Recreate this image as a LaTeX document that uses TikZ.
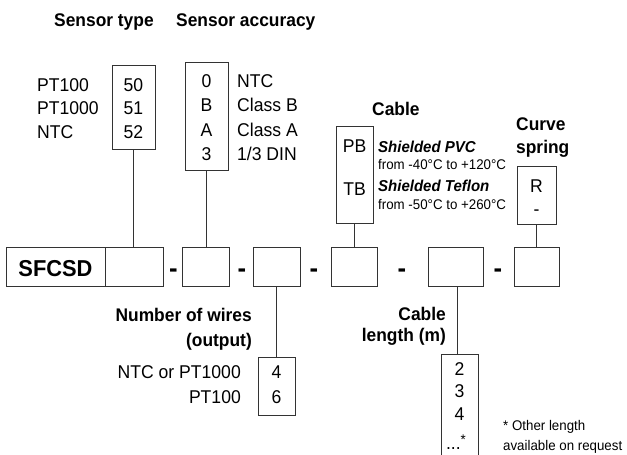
\documentclass[tikz,border=0pt]{standalone}
\usepackage{fontspec}
\setmainfont{Liberation Sans}[FakeStretch=0.95]
\begin{document}
\begin{tikzpicture}[x=1pt,y=-1pt,
  box/.style={draw=black!80, line width=0.9pt, inner sep=0pt, outer sep=0pt, rectangle},
  conn/.style={draw=black!80, line width=0.9pt},
  lab/.style={font=\fontsize{18.5}{21}\selectfont, inner sep=0pt},
  head/.style={font=\bfseries\fontsize{18.3}{21}\selectfont, inner sep=0pt},
  small/.style={font=\fontsize{14}{16}\selectfont, inner sep=0pt},
  bital/.style={font=\bfseries\itshape\fontsize{15.8}{18}\selectfont, inner sep=0pt},
  sep/.style={font=\bfseries\fontsize{27}{27}\selectfont, inner sep=0pt, anchor=base}]
\useasboundingbox (0,0) rectangle (627,455);

% headings
\node[head, anchor=base west] (hType) at (54,26) {Sensor type};
\node[head, anchor=base west] (hAcc) at (176,26) {Sensor accuracy};
\node[head, anchor=base west] (hCable) at (372,115) {Cable};
\node[head, anchor=base west] (hCurve) at (516,130) {Curve};
\node[head, anchor=base west] (hSpring) at (516,153) {spring};
\node[head, anchor=base east] (hWires) at (252,321) {Number of wires};
\node[head, anchor=base east] (hOut) at (252,346) {(output)};
\node[head, anchor=base east] (hLen1) at (446,320) {Cable};
\node[head, anchor=base east] (hLen2) at (446,341) {length (m)};

% sensor type box
\node[box, minimum width=43, minimum height=84] (tbox) at (133.5,107) {};
\node[lab, anchor=base] (t50) at (133.5,91) {50};
\node[lab, anchor=base] (t51) at (133.5,114.5) {51};
\node[lab, anchor=base] (t52) at (133.5,138) {52};
\node[lab, anchor=base west] (l50) at (37,91) {PT100};
\node[lab, anchor=base west] (l51) at (37,114.5) {PT1000};
\node[lab, anchor=base west] (l52) at (37,138) {NTC};

% accuracy box
\node[box, minimum width=43, minimum height=108] (abox) at (206.5,116) {};
\node[lab, anchor=base] (a0) at (206.5,87) {0};
\node[lab, anchor=base] (aB) at (206.5,111) {B};
\node[lab, anchor=base] (aA) at (206.5,136) {A};
\node[lab, anchor=base] (a3) at (206.5,160.5) {3};
\node[lab, anchor=base west] (la0) at (237,87) {NTC};
\node[lab, anchor=base west] (laB) at (237,111) {Class B};
\node[lab, anchor=base west] (laA) at (237,136) {Class A};
\node[lab, anchor=base west] (la3) at (237,160.5) {1/3 DIN};

% cable box
\node[box, minimum width=37, minimum height=97] (cbox) at (354.5,174.5) {};
\node[lab, anchor=base] (cPB) at (354.5,152) {PB};
\node[lab, anchor=base] (cTB) at (354.5,195) {TB};
\node[bital, anchor=base west] (cPVC) at (378,152) {Shielded PVC};
\node[small, anchor=base west] (cPVCt) at (378,169.5) {from -40°C to +120°C};
\node[bital, anchor=base west] (cTef) at (378,191) {Shielded Teflon};
\node[small, anchor=base west] (cTeft) at (378,209) {from -50°C to +260°C};

% curve spring box
\node[box, minimum width=39, minimum height=58] (sbox) at (536.5,195) {};
\node[lab, anchor=base] (sR) at (536.5,192) {R};
\node[lab, anchor=base] (sD) at (536.5,215) {-};

% main row
\node[box, minimum width=99, minimum height=39] (m0) at (55.5,266.5) {};
\node[font=\bfseries\fontsize{23}{24}\selectfont, inner sep=0pt, anchor=base] (mTxt) at (55.5,276) {SFCSD};
\node[box, minimum width=58, minimum height=39] (m1) at (134,266.5) {};
\node[box, minimum width=47, minimum height=39] (m2) at (205.5,266.5) {};
\node[box, minimum width=47, minimum height=39] (m3) at (276.5,266.5) {};
\node[box, minimum width=46, minimum height=39] (m4) at (354,266.5) {};
\node[box, minimum width=55, minimum height=39] (m5) at (455.5,266.5) {};
\node[box, minimum width=45, minimum height=39] (m6) at (536.5,266.5) {};
\node[sep] (d1) at (173.5,277) {-};
\node[sep] (d2) at (242,277) {-};
\node[sep] (d3) at (314,277) {-};
\node[sep] (d4) at (402,277) {-};
\node[sep] (d5) at (498,277) {-};

% wires box
\node[box, minimum width=37, minimum height=58] (wbox) at (276.5,386) {};
\node[lab, anchor=base] (w4) at (276.5,378) {4};
\node[lab, anchor=base] (w6) at (276.5,403) {6};
\node[lab, anchor=base east] (lw4) at (241,378) {NTC or PT1000};
\node[lab, anchor=base east] (lw6) at (241,403) {PT100};

% length box (open at the bottom)
\node[inner sep=0pt, outer sep=0pt, minimum width=37, minimum height=101] (lbox) at (459.5,404.5) {};
\draw[conn] (lbox.south west) -- (lbox.north west) -- (lbox.north east) -- (lbox.south east);
\node[lab, anchor=base] (l2) at (459.5,375) {2};
\node[lab, anchor=base] (l3) at (459.5,397.5) {3};
\node[lab, anchor=base] (l4) at (459.5,420) {4};
\node[lab, anchor=base] (ldots) at (456,449) {...\raisebox{0.5ex}{\fontsize{14}{14}\selectfont *}};
\node[small, anchor=base west] (note1) at (503,430) {* Other length};
\node[small, anchor=base west] (note2) at (503,450) {available on request};

% connectors
\draw[conn] (tbox.south) -- (tbox.south |- m1.north);
\draw[conn] (abox.south) -- (abox.south |- m2.north);
\draw[conn] (cbox.south) -- (cbox.south |- m4.north);
\draw[conn] (sbox.south) -- (sbox.south |- m6.north);
\draw[conn] (m3.south) -- (m3.south |- wbox.north);
\draw[conn] (m5.south -| lbox.north) ++(-2.5,0) -- ([xshift=-2.5pt]lbox.north);
\end{tikzpicture}
\end{document}
